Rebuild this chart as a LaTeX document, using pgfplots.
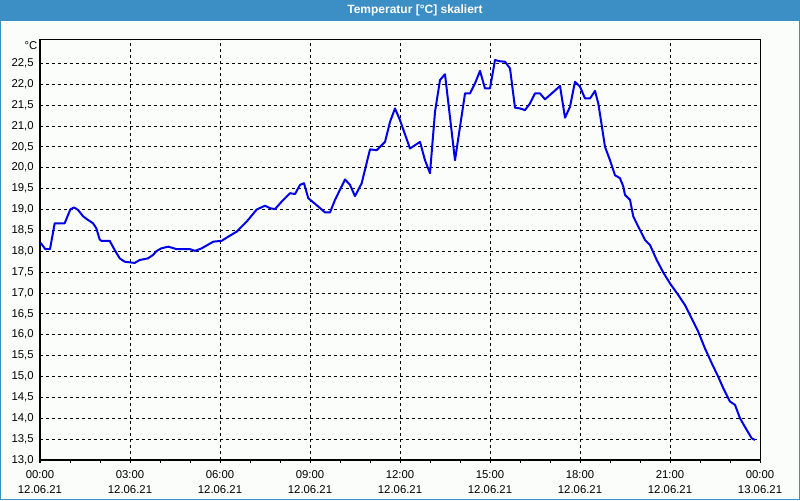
\documentclass[border=0pt]{standalone}
\usepackage{pgfplots}
\pgfplotsset{compat=1.18}
\usepackage{fontspec}
\setmainfont{Liberation Sans}
\definecolor{titlebar}{HTML}{3C8FC4}
\definecolor{lineblue}{HTML}{0000E6}
\definecolor{bg}{HTML}{FBFDFB}

\pgfplotstableread{
h v
0.023 18.20
0.177 18.05
0.333 18.05
0.49 18.67
0.823 18.67
1.01 19.00
1.133 19.05
1.267 18.99
1.433 18.84
1.6 18.75
1.767 18.67
1.877 18.55
1.99 18.28
2.043 18.25
2.323 18.25
2.49 18.03
2.657 17.83
2.823 17.75
3.157 17.72
3.323 17.79
3.6 17.83
3.767 17.91
3.877 18.00
4.043 18.07
4.277 18.11
4.557 18.05
5.0 18.05
5.167 18.01
5.39 18.07
5.777 18.23
6.057 18.25
6.277 18.35
6.557 18.47
6.89 18.71
7.223 19.00
7.5 19.09
7.667 19.03
7.833 19.01
8.057 19.19
8.333 19.39
8.5 19.37
8.667 19.59
8.8 19.63
8.943 19.27
9.277 19.07
9.5 18.93
9.667 18.93
9.833 19.23
10.167 19.72
10.333 19.59
10.5 19.32
10.723 19.63
11.0 20.44
11.223 20.42
11.5 20.62
11.667 21.10
11.833 21.42
12.0 21.14
12.333 20.46
12.667 20.62
12.833 20.18
13.0 19.87
13.167 21.34
13.333 22.10
13.5 22.24
13.833 20.18
14.167 21.78
14.333 21.78
14.5 22.02
14.667 22.32
14.833 21.90
15.0 21.90
15.167 22.58
15.333 22.55
15.5 22.54
15.667 22.38
15.833 21.44
16.0 21.42
16.167 21.38
16.333 21.54
16.5 21.78
16.667 21.78
16.833 21.64
17.167 21.85
17.333 21.96
17.5 21.20
17.667 21.46
17.833 22.06
18.0 21.94
18.167 21.66
18.333 21.66
18.5 21.84
18.61 21.54
18.723 21.02
18.833 20.50
19.0 20.18
19.167 19.82
19.333 19.75
19.443 19.55
19.5 19.35
19.667 19.23
19.777 18.83
19.943 18.59
20.167 18.27
20.333 18.15
20.557 17.79
20.777 17.49
21.0 17.23
21.277 16.95
21.5 16.71
21.723 16.39
21.943 16.07
22.167 15.67
22.39 15.32
22.61 14.99
22.777 14.72
23.0 14.40
23.167 14.32
23.333 14.00
23.557 13.72
23.723 13.52
23.833 13.48
}\temps

\begin{document}
\begin{tikzpicture}[x=0.75pt,y=0.75pt]
\fill[bg] (0,0) rectangle (800,500);
\fill[titlebar] (0,479) rectangle (800,500);
\draw[titlebar, line width=0.75pt] (0.5,0.5) rectangle (799.5,499.5);
\node[white, font=\bfseries\fontsize{9}{10}\selectfont] at (415,489.5) {Temperatur [°C] skaliert};
\begin{axis}[
  at={(30pt,30pt)}, anchor=south west,
  scale only axis, width=540pt, height=315pt,
  xmin=0, xmax=24, ymin=13, ymax=23.06,
  xtick={0,3,...,24},
  minor xtick={1,2,4,5,7,8,10,11,13,14,16,17,19,20,22,23},
  xticklabels={{00:00\\12.06.21},{03:00\\12.06.21},{06:00\\12.06.21},{09:00\\12.06.21},{12:00\\12.06.21},{15:00\\12.06.21},{18:00\\12.06.21},{21:00\\12.06.21},{00:00\\13.06.21}},
  xticklabel style={align=center, font=\fontsize{8.5}{11.25}\selectfont, yshift=-2pt},
  ytick={13,13.5,...,22.5},
  yticklabel style={font=\fontsize{8.5}{10}\selectfont, xshift=1pt,
    /pgf/number format/fixed, /pgf/number format/fixed zerofill,
    /pgf/number format/precision=1, /pgf/number format/use comma,
    /pgf/number format/assume math mode=true},
  xtick pos=bottom, ytick pos=left,
  tick align=outside,
  major tick length=2.25pt, minor tick length=2.25pt,
  y tick style={draw=none},
  x tick style={black, line width=0.75pt},
  minor x tick style={black, line width=0.75pt},
  xmajorgrids, ymajorgrids,
  major grid style={black, line width=0.75pt, dash pattern=on 2.25pt off 2.25pt},
  axis line style={black, line width=0.75pt},
  axis background/.style={fill=bg},
]
\addplot[lineblue, line width=1.5pt, line join=round] table[x=h, y=v] {\temps};
\end{axis}
\node[anchor=east, font=\fontsize{8.5}{10}\selectfont, inner sep=0pt] at (37.5,454) {°C};
\end{tikzpicture}
\end{document}
